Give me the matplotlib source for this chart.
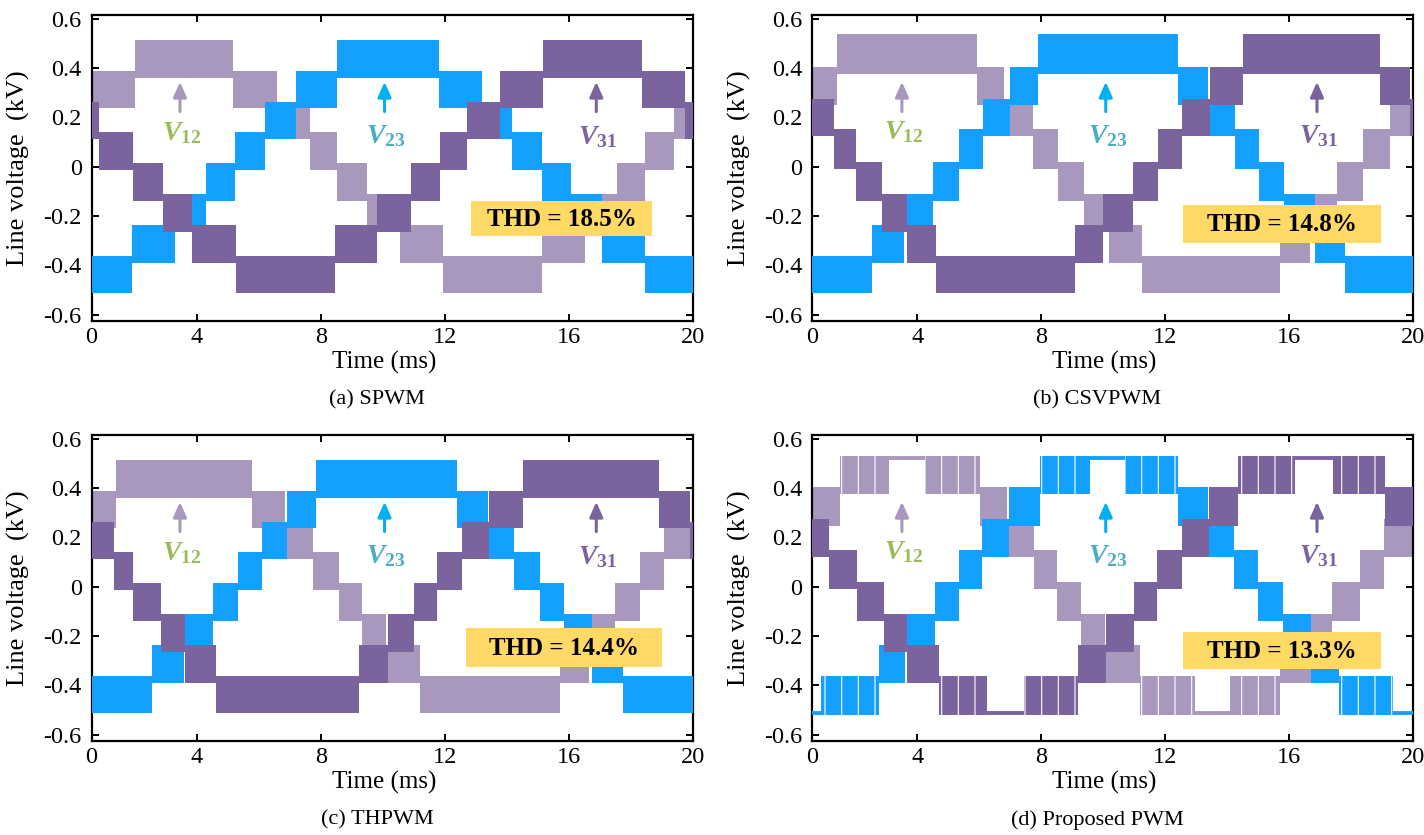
import matplotlib
matplotlib.use("Agg")
import matplotlib.pyplot as plt

plt.rcParams['font.family'] = ['Liberation Serif', 'DejaVu Serif']
plt.rcParams['mathtext.fontset'] = 'custom'
plt.rcParams['mathtext.it'] = 'Liberation Serif:italic:bold'
plt.rcParams['mathtext.rm'] = 'Liberation Serif:bold'
plt.rcParams['axes.unicode_minus'] = False
plt.rcParams['hatch.linewidth'] = 0.8

# ---------------- data ----------------
# voltage levels (kV) of each panel
A_LEVELS = [-0.5, -0.375, -0.25, -0.125, 0.0, 0.125, 0.25, 0.375, 0.5]
B_LEVELS = [-0.5, -0.375, -0.25, -0.125, 0.005, 0.14, 0.262, 0.39, 0.525]
C_LEVELS = [-0.5, -0.375, -0.25, -0.125, 0.0, 0.125, 0.25, 0.375, 0.5]
D_LEVELS = [-0.505, -0.375, -0.25, -0.125, 0.005, 0.135, 0.26, 0.39, 0.516]
TIME_TICKS = [0, 4, 8, 12, 16, 20]
VOLT_TICKS = [-0.6, -0.4, -0.2, 0.0, 0.2, 0.4, 0.6]
VOLT_LABELS = ['-0.6', '-0.4', '-0.2', '0', '0.2', '0.4', '0.6']
CAPTIONS = ['(a) SPWM', '(b) CSVPWM', '(c) THPWM', '(d) Proposed PWM']
THD = ['THD = 18.5%', 'THD = 14.8%', 'THD = 14.4%', 'THD = 13.3%']
PHASES = ['12', '23', '31']

# band k = between LEVELS[k+4] and LEVELS[k+5]; 'f+' / 'f-' = flat at top / bottom level
# (a) SPWM
A_V12_T = [0.6, 2.0, 5.17, 6.57, 7.63, 8.52, 9.5, 10.55, 11.93, 15.13, 16.53, 17.55, 18.45, 19.4, 20.0]
A_V12_B = [2, 3, 2, 1, 0, -1, -2, -3, -4, -3, -2, -1, 0, 1]
A_V23_T = [0.6, 1.9, 3.3, 4.28, 5.22, 6.18, 7.2, 8.52, 11.82, 13.18, 14.17, 15.12, 16.08, 17.06, 18.45, 20.0]
A_V23_B = [-4, -3, -2, -1, 0, 1, 2, 3, 2, 1, 0, -1, -2, -3, -4]
A_V31_T = [0.6, 0.85, 1.95, 2.9, 3.83, 5.25, 8.45, 9.8, 10.9, 11.84, 12.72, 13.77, 15.17, 18.35, 19.75, 20.0]
A_V31_B = [1, 0, -1, -2, -3, -4, -3, -2, -1, 0, 1, 2, 3, 2, 1]
# (b) CSVPWM
B_V12_T = [0.6, 1.41, 5.92, 6.8, 7.74, 8.55, 9.38, 10.2, 11.25, 15.7, 16.68, 17.55, 18.38, 19.25, 20.0]
B_V12_B = [2, 3, 2, 1, 0, -1, -2, -3, -4, -3, -2, -1, 0, 1]
B_V23_T = [0.6, 2.54, 3.58, 4.5, 5.33, 6.12, 6.98, 7.9, 12.42, 13.38, 14.24, 15.03, 15.85, 16.85, 17.8, 20.0]
B_V23_B = [-4, -3, -2, -1, 0, 1, 2, 3, 2, 1, 0, -1, -2, -3, -4]
B_V31_T = [0.6, 1.3, 2.02, 2.86, 3.68, 4.6, 9.1, 10.0, 10.95, 11.77, 12.55, 13.45, 14.52, 18.94, 19.9, 20.0]
B_V31_B = [1, 0, -1, -2, -3, -4, -3, -2, -1, 0, 1, 2, 3, 2, 1]
# (c) THPWM
C_V12_T = [0.6, 1.4, 5.77, 6.85, 7.74, 8.57, 9.33, 10.1, 11.18, 15.7, 16.66, 17.5, 18.3, 19.08, 20.0]
C_V12_B = [2, 3, 2, 1, 0, -1, -2, -3, -4, -3, -2, -1, 0, 1]
C_V23_T = [0.6, 2.55, 3.57, 4.52, 5.32, 6.09, 6.91, 7.85, 12.4, 13.38, 14.24, 15.07, 15.83, 16.75, 17.74, 20.0]
C_V23_B = [-4, -3, -2, -1, 0, 1, 2, 3, 2, 1, 0, -1, -2, -3, -4]
C_V31_T = [0.6, 1.31, 1.95, 2.84, 3.62, 4.62, 9.21, 10.16, 11.0, 11.75, 12.55, 13.41, 14.52, 18.9, 19.9, 20.0]
C_V31_B = [1, 0, -1, -2, -3, -4, -3, -2, -1, 0, 1, 2, 3, 2, 1]
# (d) Proposed PWM
D_V12_T = [0.6, 1.5, 3.07, 4.26, 6.03, 6.9, 7.75, 8.5, 9.28, 10.05, 11.19, 12.97, 14.1, 15.7, 16.7, 17.4, 18.3, 19.05, 20.0]
D_V12_B = [2, 3, 'f+', 3, 2, 1, 0, -1, -2, -3, -4, 'f-', -4, -3, -2, -1, 0, 1]
D_V23_T = [0.6, 0.9, 2.76, 3.6, 4.56, 5.34, 6.1, 6.95, 7.97, 9.58, 10.71, 12.42, 13.38, 14.22, 15.0, 15.8, 16.72, 17.62, 19.35, 20.0]
D_V23_B = ['f-', -4, -3, -2, -1, 0, 1, 2, 3, 'f+', 3, 2, 1, 0, -1, -2, -3, -4, 'f-']
D_V31_T = [0.6, 1.15, 2.05, 2.93, 3.65, 4.69, 6.24, 7.45, 9.19, 10.1, 11.0, 11.75, 12.55, 13.4, 14.35, 16.19, 17.42, 19.1, 20.0]
D_V31_B = [1, 0, -1, -2, -3, -4, 'f-', -4, -3, -2, -1, 0, 1, 2, 3, 'f+', 3, 2]

PANELS = [
    (A_LEVELS, [(A_V12_T, A_V12_B), (A_V23_T, A_V23_B), (A_V31_T, A_V31_B)]),
    (B_LEVELS, [(B_V12_T, B_V12_B), (B_V23_T, B_V23_B), (B_V31_T, B_V31_B)]),
    (C_LEVELS, [(C_V12_T, C_V12_B), (C_V23_T, C_V23_B), (C_V31_T, C_V31_B)]),
    (D_LEVELS, [(D_V12_T, D_V12_B), (D_V23_T, D_V23_B), (D_V31_T, D_V31_B)]),
]

# ---------------- style ----------------
WAVE_COLORS = ['#A898BE', '#14A0FE', '#7B639E']
LABEL_COLORS = ['#9BBB59', '#4BACC6', '#7B639E']
ARROW_COLORS = ['#A898BE', '#00B0F0', '#7B639E']
BOX_COLOR = '#FFD966'
PAD = 0.014
X_START = 0.6
XLIM = (0.597, 20.0)
YLIM = (-0.626, 0.615)
SPARSE = [False, False, False, True]   # panel (d): visibly sparse switching in outer bands

W, H = 1424, 835
fig = plt.figure(figsize=(W / 100, H / 100), dpi=100)

ax_pos = [  # left, top, right, bottom in pixels
    (91.5, 15, 693, 321), (812, 15, 1413, 321),
    (91.5, 435, 693, 741), (812, 435, 1413, 741),
]
label_pos = [  # (t, label y) for V12, V23, V31 arrows/labels
    [(3.45, 0.135), (10.05, 0.125), (16.88, 0.12)],
    [(3.5, 0.14), (10.08, 0.125), (16.9, 0.125)],
    [(3.45, 0.135), (10.05, 0.125), (16.88, 0.12)],
    [(3.5, 0.14), (10.08, 0.125), (16.9, 0.125)],
]
box_pos = [  # t0, t1, v0, v1
    (12.84, 18.68, -0.281, -0.139),
    (12.58, 18.97, -0.31, -0.155),
    (12.68, 19.0, -0.325, -0.168),
    (12.58, 18.97, -0.334, -0.184),
]


def draw_phase(ax, levels, edges, bands, color, z, sparse):
    for t0, t1, b in zip(edges[:-1], edges[1:], bands):
        if b == 'f+' or b == 'f-':
            lev = levels[-1] + 0.006 if b == 'f+' else levels[0] - 0.006
            ax.hlines(lev, t0, t1, color=color, lw=2.8, zorder=z)
        else:
            lo, hi = levels[b + 4], levels[b + 5]
            hatched = sparse and b in (3, -4)
            ax.bar(t0, hi - lo + 2 * PAD, bottom=lo - PAD, width=t1 - t0,
                   align='edge', color=color, lw=0, zorder=z,
                   hatch='|' if hatched else None,
                   edgecolor='white' if hatched else color)


for i, (l, t, r, b) in enumerate(ax_pos):
    ax = fig.add_axes([l / W, 1 - b / H, (r - l) / W, (b - t) / H])
    levels, phases = PANELS[i]
    for j, (edges, bands) in enumerate(phases):
        draw_phase(ax, levels, edges, bands, WAVE_COLORS[j], 2 + j, SPARSE[i])

    for j, (tl, vy) in enumerate(label_pos[i]):
        ax.annotate('', xy=(tl, 0.355), xytext=(tl, 0.212),
                    arrowprops=dict(arrowstyle='-|>,head_length=0.9,head_width=0.4',
                                    color=ARROW_COLORS[j], lw=2.2), zorder=6)
        ax.text(tl + 0.05, vy, r'$V_{\mathit{' + PHASES[j] + '}}$', color=LABEL_COLORS[j],
                fontsize=20, ha='center', va='center', zorder=6)

    t0, t1, v0, v1 = box_pos[i]
    ax.add_patch(plt.Rectangle((t0, v0), t1 - t0, v1 - v0, facecolor=BOX_COLOR,
                               edgecolor='none', zorder=7))
    ax.text((t0 + t1) / 2, (v0 + v1) / 2 - 0.004, THD[i], fontsize=18, fontweight='bold',
            ha='center', va='center', color='black', zorder=8)

    ax.set_xlim(*XLIM)
    ax.set_ylim(*YLIM)
    ax.set_xticks([X_START] + TIME_TICKS[1:])
    ax.set_xticklabels([str(v) for v in TIME_TICKS])
    ax.set_yticks(VOLT_TICKS)
    ax.set_yticklabels(VOLT_LABELS)
    ax.tick_params(direction='in', length=5, width=1.4, top=True, right=True,
                   labelsize=17.5)
    ax.tick_params(axis='y', pad=7)
    ax.tick_params(axis='x', pad=4)
    for s in ax.spines.values():
        s.set_linewidth(1.6)

    cx = (l + r) / 2
    fig.text((cx - 8) / W, 1 - (b + 41) / H, 'Time (ms)', fontsize=18,
             ha='center', va='center')
    fig.text((cx - 15) / W, 1 - (b + 79) / H, CAPTIONS[i], fontsize=16,
             ha='center', va='center')
    fig.text((l - 73) / W, 1 - ((t + b) / 2) / H, 'Line voltage  (kV)', fontsize=19,
             rotation=90, ha='center', va='center')

fig.savefig('out.png', dpi=100)
